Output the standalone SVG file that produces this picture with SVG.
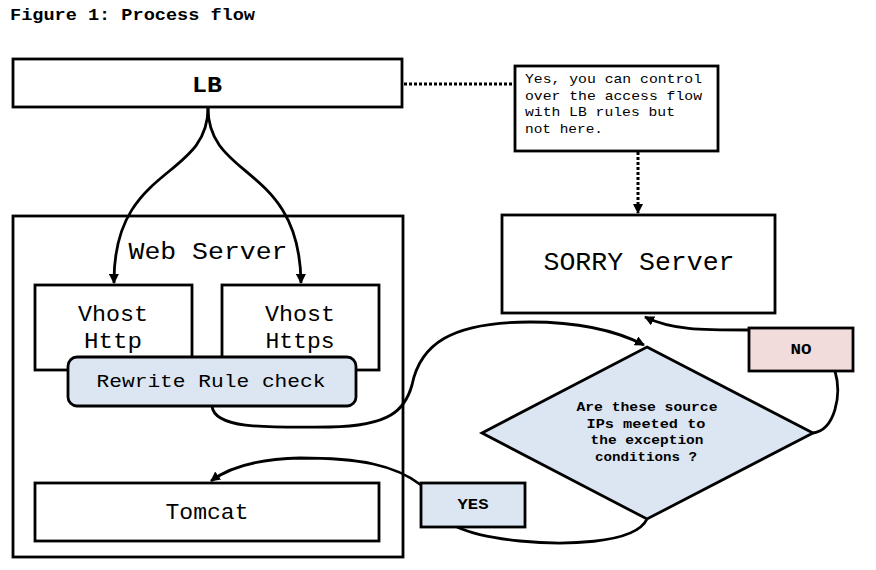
<svg xmlns="http://www.w3.org/2000/svg" width="876" height="570" viewBox="0 0 876 570">
<defs>
<marker id="arr" viewBox="0 0 10 10" refX="9" refY="5" markerWidth="10" markerHeight="10" markerUnits="userSpaceOnUse" orient="auto">
<path d="M0,0 L10,5 L0,10 z" fill="#000"/>
</marker>
<style>
.box{fill:#fff;stroke:#000;stroke-width:2.8}
.blue{fill:#dce6f2;stroke:#000;stroke-width:2.8}
.pink{fill:#f2dcdb;stroke:#000;stroke-width:2.8}
.t{font-family:"Liberation Mono","Courier New",monospace;fill:#000;text-anchor:middle}
.b{font-weight:bold}
.c{fill:none;stroke:#000;stroke-width:2.8}
.d{fill:none;stroke:#000;stroke-width:3;stroke-dasharray:3,2}
</style>
</defs>
<rect width="876" height="570" fill="#fff"/>
<text class="t b" x="10" y="20" font-size="16" style="text-anchor:start" textLength="245" lengthAdjust="spacingAndGlyphs">Figure 1: Process flow</text>

<g id="webserver">
<rect class="box" x="13" y="216" width="390" height="341"/>
<text class="t" x="208" y="259" font-size="24" textLength="159" lengthAdjust="spacingAndGlyphs">Web Server</text>
</g>
<g id="lb">
<rect class="box" x="13" y="59" width="389" height="48"/>
<text class="t b" x="207" y="92" font-size="22" textLength="30" lengthAdjust="spacingAndGlyphs">LB</text>
</g>
<g id="note">
<rect class="box" x="515" y="66" width="203" height="85"/>
<text class="t" x="525" y="83" font-size="13" style="text-anchor:start" textLength="177" lengthAdjust="spacingAndGlyphs">Yes, you can control</text>
<text class="t" x="525" y="100" font-size="13" style="text-anchor:start" textLength="177" lengthAdjust="spacingAndGlyphs">over the access flow</text>
<text class="t" x="525" y="116" font-size="13" style="text-anchor:start" textLength="150" lengthAdjust="spacingAndGlyphs">with LB rules but</text>
<text class="t" x="525" y="133" font-size="13" style="text-anchor:start" textLength="78" lengthAdjust="spacingAndGlyphs">not here.</text>
</g>
<g id="sorry">
<rect class="box" x="502" y="215" width="273" height="98"/>
<text class="t" x="639" y="270" font-size="25" textLength="191" lengthAdjust="spacingAndGlyphs">SORRY Server</text>
</g>
<g id="vhost-http">
<rect class="box" x="35" y="285" width="157" height="85"/>
<text class="t" x="113" y="321" font-size="22" textLength="70" lengthAdjust="spacingAndGlyphs">Vhost</text>
<text class="t" x="113" y="348" font-size="22" textLength="58" lengthAdjust="spacingAndGlyphs">Http</text>
</g>
<g id="vhost-https">
<rect class="box" x="222" y="285" width="157" height="85"/>
<text class="t" x="300" y="321" font-size="22" textLength="70" lengthAdjust="spacingAndGlyphs">Vhost</text>
<text class="t" x="300" y="348" font-size="22" textLength="69" lengthAdjust="spacingAndGlyphs">Https</text>
</g>
<g id="rewrite">
<rect class="blue" x="68" y="357" width="288" height="49" rx="9"/>
<text class="t" x="211" y="387" font-size="19" textLength="229" lengthAdjust="spacingAndGlyphs">Rewrite Rule check</text>
</g>
<g id="tomcat">
<rect class="box" x="35" y="483" width="344" height="58"/>
<text class="t" x="207" y="519" font-size="22" textLength="83" lengthAdjust="spacingAndGlyphs">Tomcat</text>
</g>
<g id="decision">
<polygon class="blue" points="647,347 813,433 647,519 482,433"/>
<text class="t b" x="647" y="411" font-size="12.5" textLength="141" lengthAdjust="spacingAndGlyphs">Are these source</text>
<text class="t b" x="646" y="428" font-size="12.5" textLength="119" lengthAdjust="spacingAndGlyphs">IPs meeted to</text>
<text class="t b" x="647" y="444" font-size="12.5" textLength="113" lengthAdjust="spacingAndGlyphs">the exception</text>
<text class="t b" x="646" y="461" font-size="12.5" textLength="102" lengthAdjust="spacingAndGlyphs">conditions ?</text>
</g>
<g id="no">
<rect class="pink" x="749" y="328" width="104" height="43"/>
<text class="t b" x="801" y="354" font-size="14" textLength="21" lengthAdjust="spacingAndGlyphs">NO</text>
</g>
<g id="yes">
<rect class="blue" x="421" y="483" width="104" height="44"/>
<text class="t b" x="473" y="509" font-size="14" textLength="31" lengthAdjust="spacingAndGlyphs">YES</text>
</g>

<g id="connectors">
<path class="d" d="M404,84 L515,84"/>
<path class="d" d="M638,152 L638,213" marker-end="url(#arr)"/>
<path class="c" d="M208,108 C208,180 113,165 114,283" marker-end="url(#arr)"/>
<path class="c" d="M208,108 C208,180 300,165 301,283" marker-end="url(#arr)"/>
<path class="c" d="M212,406 C214,428 260,428 330,427 C390,426 405,410 412,385 C420,345 450,322 530,322 C580,322 615,330 644,345" marker-end="url(#arr)"/>
<path class="c" d="M813,433 C835,430 842,395 835,371"/>
<path class="c" d="M749,330 C700,330 672,330 645,317" marker-end="url(#arr)"/>
<path class="c" d="M647,519 C635,545 560,545 520,541 C490,538 468,532 457,527"/>
<path class="c" d="M421,485 C395,465 360,458 300,458 C255,459 228,468 211,481" marker-end="url(#arr)"/>
</g>
</svg>
